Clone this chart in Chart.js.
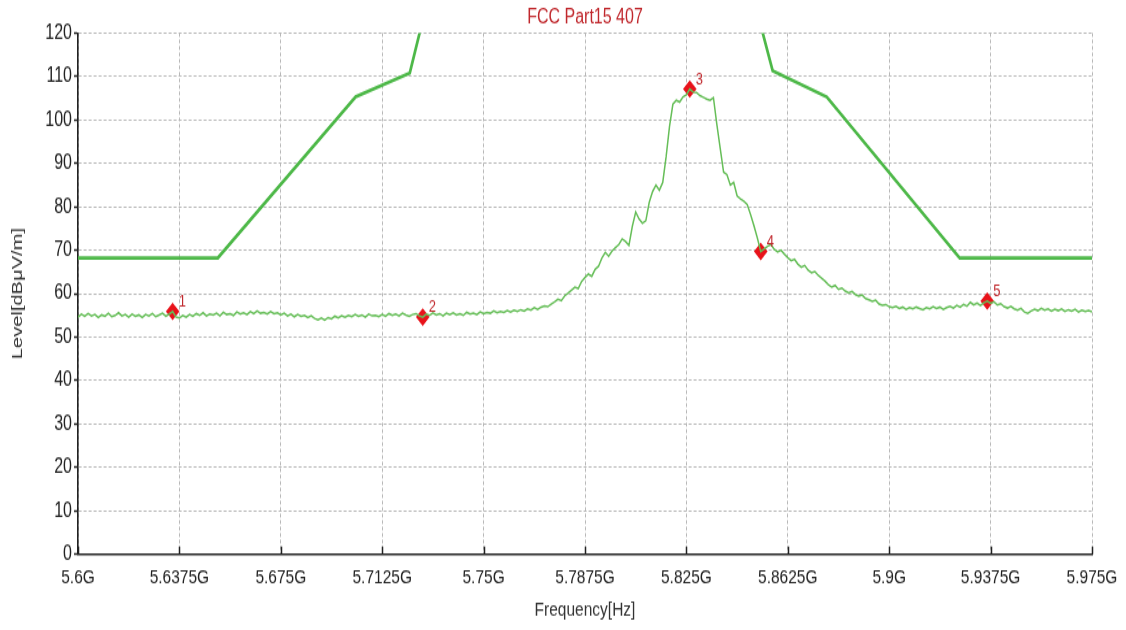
<!DOCTYPE html>
<html>
<head>
<meta charset="utf-8">
<script src="https://cdn.jsdelivr.net/npm/chart.js@4.4.1/dist/chart.umd.min.js"></script>
<style>
  html, body { margin: 0; padding: 0; background: #fff; overflow: hidden; }
  #page { width: 1126px; height: 630px; overflow: hidden; }
  /* analyzer screenshots come out tall and narrow: draw at 485px high and stretch */
  #wrap { width: 1126px; height: 485px; transform: scaleY(1.29897); transform-origin: 0 0; }
</style>
</head>
<body>
<div id="page"><div id="wrap"><canvas id="chartContainer" width="1126" height="485"></canvas></div></div>
<script>
// sweep settings (GHz), 301 points
const sweepStart = 5.6;
const sweepStop = 5.975;

// measured level per sweep point, dBuV/m
const traceLevels = [
  54.6, 55.3, 54.8, 55.4, 54.9, 55.2, 54.5, 55.1, 54.8, 55.5,
  54.7, 55.0, 55.6, 54.9, 55.2, 54.6, 55.3, 54.8, 55.1, 54.5,
  55.2, 54.9, 55.4, 54.7, 55.1, 55.5, 54.8, 55.3, 55.9, 54.6,
  54.4, 55.0, 54.6, 55.2, 54.8, 55.4, 55.0, 55.6, 54.9, 55.3,
  55.1, 55.5, 54.9, 55.7, 55.2, 55.4, 55.0, 55.8, 55.3, 55.6,
  55.2, 55.9, 55.4, 56.0, 55.5, 55.7, 55.3, 55.9, 55.4, 55.6,
  55.1, 55.5, 54.9, 55.3, 54.7, 55.2, 54.8, 55.0, 54.5, 54.9,
  54.3, 54.0, 54.4, 53.9, 54.5, 54.2, 54.8, 54.4, 54.9, 54.6,
  55.0, 54.7, 55.2, 54.8, 55.1, 54.6, 55.3, 54.9, 55.0, 54.7,
  55.2, 54.8, 55.4, 55.0, 55.3, 54.9, 55.5, 55.1, 54.8, 55.2,
  55.4, 54.9, 54.6, 55.3, 55.0, 55.6, 55.1, 55.4, 54.9, 55.5,
  55.2, 55.6, 55.1, 55.4, 55.0, 55.7, 55.3, 55.5, 55.2, 55.8,
  55.4, 55.7, 55.5, 56.0, 55.6, 55.9, 55.7, 56.1, 55.8, 56.2,
  55.9, 56.3, 56.0, 56.5, 56.2, 56.8, 56.4, 56.9, 57.2, 57.0,
  57.6, 58.1, 58.7, 58.4, 59.5, 60.1, 60.8, 61.5, 61.2, 62.8,
  63.7, 64.5, 64.0, 65.6, 66.3, 68.2, 69.5, 68.6, 69.8, 70.6,
  71.3, 72.6, 72.0, 71.1, 75.5, 78.8, 77.2, 76.2, 76.8, 81.0,
  83.5, 85.0, 83.8, 85.6, 91.5, 98.5, 103.6, 104.5, 104.1, 105.3,
  105.8, 107.1, 106.4, 106.3, 105.6, 105.2, 104.8, 104.5, 105.1, 99.0,
  93.5, 88.0, 87.4, 85.0, 85.6, 82.5, 81.8, 81.3, 80.5, 78.2,
  75.6, 72.8, 69.7, 70.3, 70.9, 71.3, 70.2, 69.6, 70.0, 69.1,
  68.3, 67.6, 67.9, 66.8, 66.1, 66.5, 65.4, 64.8, 65.1, 64.2,
  63.6, 62.9, 62.1, 61.5, 61.9, 61.0, 61.3, 60.6, 60.2, 60.5,
  59.8, 59.4, 59.7, 58.9, 58.6, 58.2, 58.5, 57.6, 57.3, 57.5,
  57.0, 56.8, 57.1, 56.6, 56.9, 56.4, 56.8, 56.5, 56.9, 56.6,
  56.3, 56.8, 56.5, 57.0, 56.6, 56.9, 56.4, 56.8, 57.1, 56.7,
  57.3, 56.9, 57.5, 57.1, 58.0, 57.4, 57.8, 57.3, 57.9, 58.3,
  57.8, 58.1, 57.4, 57.7, 57.0, 56.7, 57.1, 56.5, 56.2, 56.6,
  55.8, 55.5, 56.0, 56.4, 56.1, 56.6, 56.2, 56.5, 56.0, 56.4,
  56.1, 56.5, 55.9, 56.3, 56.0, 56.4, 55.8, 56.2, 55.9, 56.1, 55.8
];

// FCC 15.407 limit mask corners
const limitFreqs = [5.6, 5.6517, 5.7027, 5.7227, 5.7272, 5.8523, 5.8569, 5.8769, 5.9261, 5.975];
const limitLevels = [68.2, 68.2, 105.3, 110.8, 122.2, 122.2, 111.3, 105.3, 68.2, 68.2];

// markers
const markerNames = ['1', '2', '3', '4', '5'];
const markerFreqs = [5.635, 5.7275, 5.82625, 5.8525, 5.93625];
const markerLevels = [55.9, 54.6, 107.1, 69.7, 58.3];

// axis ticks
const xTickValues = [5.6, 5.6375, 5.675, 5.7125, 5.75, 5.7875, 5.825, 5.8625, 5.9, 5.9375, 5.975];
const xTickLabels = ['5.6G', '5.6375G', '5.675G', '5.7125G', '5.75G', '5.7875G', '5.825G', '5.8625G', '5.9G', '5.9375G', '5.975G'];

const face = "'Liberation Sans', Arial, sans-serif";

const step = (sweepStop - sweepStart) / (traceLevels.length - 1);
const tracePoints = traceLevels.map((v, i) => ({ x: sweepStart + i * step, y: v }));
const limitPoints = limitFreqs.map((f, i) => ({ x: f, y: limitLevels[i] }));
const markerPoints = markerFreqs.map((f, i) => ({ x: f, y: markerLevels[i] }));

const decorations = {
  id: 'decorations',
  afterDraw(chart) {
    const c = chart.ctx;
    const area = chart.chartArea;
    const xs = chart.scales.x;
    c.save();
    // x ticks point into the plot
    c.strokeStyle = '#222';
    c.lineWidth = 1.5;
    xTickValues.forEach(v => {
      const px = Math.round(xs.getPixelForValue(v)) + 0.5;
      c.beginPath();
      c.moveTo(px, area.bottom);
      c.lineTo(px, area.bottom - 6);
      c.stroke();
    });
    // title
    c.fillStyle = '#c0282d';
    c.font = '16px ' + face;
    c.textAlign = 'center';
    c.textBaseline = 'middle';
    c.fillText('FCC Part15 407', (area.left + area.right) / 2, 14);
    // marker numbers
    const meta = chart.getDatasetMeta(2);
    c.font = '13px ' + face;
    c.textAlign = 'left';
    meta.data.forEach((pt, i) => {
      c.fillText(markerNames[i], pt.x + 6, pt.y - 7.5);
    });
    c.restore();
  }
};

const ctx = document.getElementById('chartContainer').getContext('2d');
new Chart(ctx, {
  type: 'line',
  data: {
    datasets: [
      {
        label: 'Limit',
        data: limitPoints,
        borderColor: '#4db848',
        borderWidth: 2.7,
        pointRadius: 0
      },
      {
        label: 'Level',
        data: tracePoints,
        borderColor: '#66be58',
        borderWidth: 1.5,
        pointRadius: 0
      },
      {
        label: 'Markers',
        data: markerPoints,
        showLine: false,
        pointStyle: 'rectRot',
        pointRadius: 6.8,
        backgroundColor: '#e8121a',
        borderColor: '#e8121a',
        borderWidth: 0
      }
    ]
  },
  options: {
    responsive: false,
    animation: false,
    layout: { padding: { top: 25.4, right: 34, left: 0, bottom: 0 } },
    elements: { line: { tension: 0 } },
    plugins: {
      legend: { display: false },
      tooltip: { enabled: false }
    },
    scales: {
      x: {
        type: 'linear',
        min: 5.6,
        max: 5.975,
        afterBuildTicks: s => { s.ticks = xTickValues.map(v => ({ value: v })); },
        afterFit: s => { s.height = 58.3; },
        ticks: {
          autoSkip: false,
          maxRotation: 0,
          padding: 3,
          color: '#222',
          font: { family: face, size: 15.5 },
          callback: (v, i) => xTickLabels[i]
        },
        grid: {
          color: '#b8b8b8',
          lineWidth: 1,
          tickLength: 5.5,
          tickColor: 'rgba(0,0,0,0)'
        },
        border: { display: true, color: '#222', width: 1.6, dash: [3, 2] },
        title: {
          display: true,
          text: 'Frequency[Hz]',
          color: '#333',
          font: { family: face, size: 15.5 },
          padding: { top: 0, bottom: 5.5 }
        }
      },
      y: {
        min: 0,
        max: 120,
        afterFit: s => { s.width = 78; },
        ticks: {
          stepSize: 10,
          padding: 2,
          color: '#222',
          font: { family: face, size: 16 }
        },
        grid: {
          color: '#b8b8b8',
          lineWidth: 1,
          tickLength: 4,
          tickColor: '#222',
          tickWidth: 1.5
        },
        border: { display: true, color: '#222', width: 1.6, dash: [3, 2] },
        title: {
          display: true,
          text: 'Level[dBμV/m]',
          color: '#333',
          font: { family: face, size: 15.5 },
          padding: { top: 8.7, bottom: 0 }
        }
      }
    }
  },
  plugins: [decorations]
});
</script>
</body>
</html>
